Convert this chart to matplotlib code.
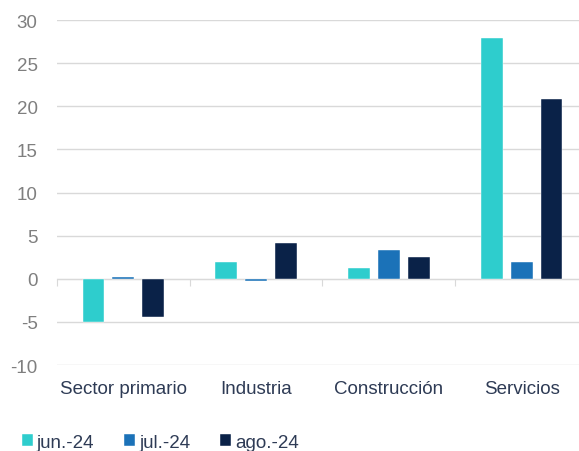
import matplotlib.pyplot as plt
import numpy as np

plt.rcParams['font.family'] = ['Liberation Sans', 'DejaVu Sans']
plt.rcParams['axes.unicode_minus'] = False

# Data
sectores = ['Sector primario', 'Industria', 'Construcción', 'Servicios']
series = ['jun.-24', 'jul.-24', 'ago.-24']
jun_24 = [-5.0, 2.0, 1.3, 27.9]
jul_24 = [0.2, -0.3, 3.4, 2.0]
ago_24 = [-4.4, 4.1, 2.5, 20.9]
colores = ['#2ECDCD', '#1B72B8', '#0A2248']

fig = plt.figure(figsize=(5.79, 4.52), dpi=100)
ax = fig.add_axes([0.0984, 0.190, 0.9171, 0.7635])

x = np.arange(len(sectores))
ancho = 0.165
paso = 0.225
for i, (vals, nombre, c) in enumerate(zip([jun_24, jul_24, ago_24], series, colores)):
    ax.bar(x + (i - 1) * paso, vals, width=ancho, color=c, label=nombre,
           edgecolor='white', linewidth=0.3, zorder=3)

ax.set_xlim(-0.5, len(sectores) - 0.5)
ax.set_ylim(-10, 30)
ax.set_yticks(np.arange(-10, 31, 5))
ax.grid(axis='y', color='#D9D9D9', linewidth=1.0, zorder=0)
ax.tick_params(axis='y', length=0, labelsize=13.5, labelcolor='#7F7F7F', pad=14)

# eje en cero con marcas entre categorías
for s in ['top', 'right', 'left']:
    ax.spines[s].set_visible(False)
ax.spines['bottom'].set_position(('data', 0))
ax.spines['bottom'].set_color('#D9D9D9')
ax.set_xticks(np.arange(len(sectores) + 1) - 0.5)
ax.tick_params(axis='x', length=5, color='#D9D9D9', labelbottom=False)

# etiquetas de categoría abajo
sec = ax.secondary_xaxis(0.0)
sec.set_xticks(x)
sec.set_xticklabels(sectores)
sec.tick_params(length=0, labelsize=13.5, labelcolor='#2E3B55', pad=11)
sec.spines['bottom'].set_visible(False)

fig.legend(loc='center left', bbox_to_anchor=(0.021, 0.019), ncol=3, frameon=False,
           fontsize=13.5, labelcolor='#2E3B55', handlelength=0.6, handleheight=0.6,
           handletextpad=0.2, columnspacing=1.6, borderpad=0)

fig.savefig('out.png', dpi=100)
